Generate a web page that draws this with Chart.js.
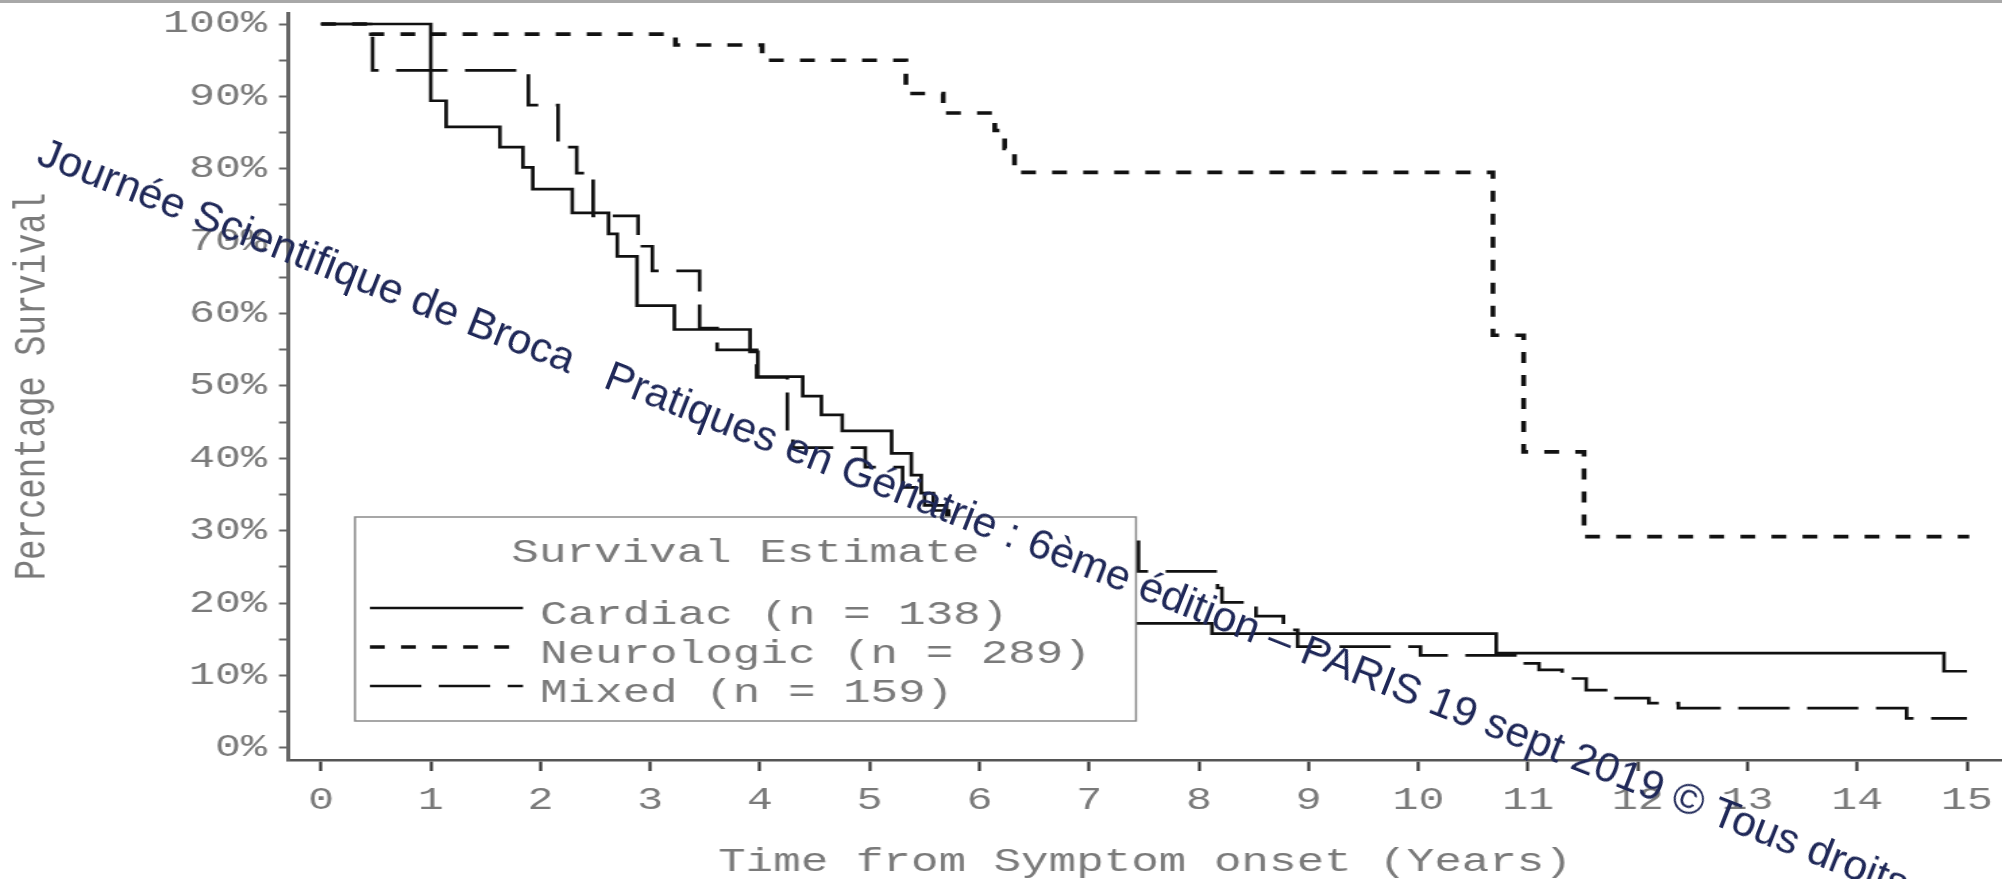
<!DOCTYPE html>
<html>
<head>
<meta charset="utf-8">
<script src="https://cdn.jsdelivr.net/npm/chart.js@4.4.1/dist/chart.umd.min.js"></script>
<style>
  html, body { margin: 0; padding: 0; background: #fff; overflow: hidden; }
  #wrap { position: relative; width: 2002px; height: 879px; overflow: hidden; background: #fff; }
  #graf { position: absolute; left: 0; top: 0; }
  #borde { position: absolute; left: 0; top: 0; width: 2002px; height: 3px; background: #a8a8a8; }
  #marca { position: absolute; left: 48px; top: 130px; font-family: "Liberation Sans", Arial, sans-serif; font-size: 43px; line-height: 1; color: #1f2858; white-space: pre; transform: rotate(21.5deg); transform-origin: 0 0; }
</style>
</head>
<body>
<div id="wrap">
  <canvas id="graf" width="1483" height="879" style="width:2002px;height:879px"></canvas>
  <div id="borde"></div>
  <div id="marca">Journée Scientifique de Broca   Pratiques en Gériatrie : 6ème édition – PARIS 19 sept 2019 © Tous droits</div>
</div>
<script>
// el gráfico original viene estirado a lo ancho, el canvas se estira igual
const ESTIRA = 1.35;
const colorTexto = '#7a7a7a';

// --- Datos (años, % de supervivencia tras cada escalón) ---
const tiempoCardiac = [0, 1.00, 1.14, 1.63, 1.84, 1.93, 2.29, 2.62, 2.70, 2.88, 3.22, 3.91, 3.98, 4.39, 4.56, 4.75, 5.20, 5.38, 5.47, 5.58, 5.72, 6.05, 6.45, 6.90, 7.25, 8.12, 10.71, 14.79, 15.00];
const survCardiac   = [100, 89.4, 85.8, 83.0, 80.2, 77.2, 73.9, 71.0, 67.9, 61.1, 57.8, 54.7, 51.3, 48.6, 46.0, 43.8, 40.7, 37.7, 35.2, 32.8, 29.5, 26.0, 22.5, 19.5, 17.2, 15.8, 13.1, 10.6, 10.6];

const tiempoNeuro = [0, 0.46, 3.23, 4.02, 5.33, 5.67, 6.14, 6.23, 6.32, 10.68, 10.96, 11.51, 15.02];
const survNeuro   = [100, 98.6, 97.1, 95.0, 90.4, 87.7, 85.3, 82.8, 79.5, 57.0, 40.9, 29.2, 29.2];

const tiempoMixed = [0, 0.47, 1.89, 2.16, 2.33, 2.48, 2.89, 3.02, 3.45, 3.61, 3.97, 4.25, 4.30, 4.96, 5.30, 5.50, 5.70, 6.20, 6.80, 7.45, 8.17, 8.21, 8.52, 8.77, 8.90, 10.02, 10.95, 11.10, 11.31, 11.53, 11.73, 12.10, 12.37, 14.45, 15.00];
const survMixed   = [100, 93.6, 88.8, 83.0, 79.4, 73.5, 69.3, 65.9, 58.0, 55.0, 51.2, 43.6, 41.5, 38.8, 36.0, 33.5, 31.0, 30.0, 28.8, 24.4, 22.1, 20.1, 18.2, 16.3, 14.0, 12.8, 11.7, 10.8, 9.6, 8.0, 6.9, 6.2, 5.5, 4.1, 4.1];

const etiquetas = ['Cardiac (n = 138)', 'Neurologic (n = 289)', 'Mixed (n = 159)'];

const ticksX = [0, 1, 2, 3, 4, 5, 6, 7, 8, 9, 10, 11, 12, 13, 14, 15];
const ticksY = [0, 5, 10, 15, 20, 25, 30, 35, 40, 45, 50, 55, 60, 65, 70, 75, 80, 85, 90, 95, 100];

function puntos(t, s) {
    return t.map((x, i) => ({ x: x, y: s[i] }));
}

// Cuadro de leyenda dentro del área (tapa las curvas como en el original)
const leyendaCaja = {
    id: 'leyendaCaja',
    afterDatasetsDraw(chart) {
        const ctx = chart.ctx;
        const x0 = 355 / ESTIRA, x1 = 1136 / ESTIRA, y0 = 517, y1 = 721;
        ctx.save();
        ctx.fillStyle = '#fff';
        ctx.fillRect(x0, y0, x1 - x0, y1 - y0);
        ctx.strokeStyle = '#8a8a8a';
        ctx.lineWidth = 1.5;
        ctx.strokeRect(x0, y0, x1 - x0, y1 - y0);

        ctx.font = '34px "Liberation Mono", monospace';
        ctx.fillStyle = colorTexto;
        ctx.textAlign = 'center';
        ctx.textBaseline = 'alphabetic';
        ctx.fillText('Survival Estimate', (x0 + x1) / 2, 562);

        ctx.textAlign = 'left';
        chart.data.datasets.forEach((ds, i) => {
            const yl = 608 + i * 39;
            ctx.beginPath();
            ctx.setLineDash(ds.borderDash || []);
            ctx.lineWidth = ds.borderWidth;
            ctx.strokeStyle = ds.borderColor;
            ctx.moveTo(370 / ESTIRA, yl);
            ctx.lineTo(523 / ESTIRA, yl);
            ctx.stroke();
            ctx.setLineDash([]);
            ctx.fillText(ds.label, 540 / ESTIRA, yl + 15.5);
        });
        ctx.restore();
    }
};

Chart.defaults.font.family = '"Liberation Mono", monospace';

const comunes = { stepped: 'before', pointRadius: 0, fill: false, tension: 0, borderColor: '#111' };

new Chart(document.getElementById('graf'), {
    type: 'line',
    data: {
        datasets: [
            { ...comunes, label: etiquetas[0], data: puntos(tiempoCardiac, survCardiac), borderWidth: 2.7, borderDash: [] },
            { ...comunes, label: etiquetas[1], data: puntos(tiempoNeuro, survNeuro), borderWidth: 3.6, borderDash: [11, 12] },
            { ...comunes, label: etiquetas[2], data: puntos(tiempoMixed, survMixed), borderWidth: 2.7, borderDash: [38, 13] }
        ]
    },
    options: {
        responsive: false,
        animation: false,
        devicePixelRatio: 1,
        layout: { padding: { top: 13, left: 0, right: 0, bottom: 0 } },
        plugins: { legend: { display: false }, tooltip: { enabled: false } },
        scales: {
            x: {
                type: 'linear', min: -0.3007, max: 15.319,
                afterBuildTicks: s => { s.ticks = ticksX.map(v => ({ value: v })); },
                afterFit: s => { s.height = 119; s.paddingLeft = 0; s.paddingRight = 0; },
                ticks: { color: colorTexto, font: { size: 32, lineHeight: 1 }, padding: 14, maxRotation: 0, autoSkip: false, callback: v => String(v) },
                grid: { drawOnChartArea: false, drawTicks: true, tickLength: 11, tickWidth: 2.2, tickColor: '#333' },
                border: { display: true, color: '#555', width: 2.6 },
                title: { display: true, text: 'Time from Symptom onset (Years)', color: colorTexto, font: { size: 34, lineHeight: 1 }, padding: { top: 0, bottom: 0 } }
            },
            y: {
                type: 'linear', min: -1.66, max: 101.52,
                afterBuildTicks: s => { s.ticks = ticksY.map(v => ({ value: v })); },
                afterFit: s => { s.width = 288 / ESTIRA; s.paddingTop = 0; s.paddingBottom = 0; },
                ticks: { color: colorTexto, font: { size: 32 }, padding: 9, autoSkip: false, callback: v => (v % 10 === 0 ? v + '%' : '') },
                grid: { drawOnChartArea: false, drawTicks: true, tickLength: 6.7, tickWidth: 2, tickColor: '#666' },
                border: { display: true, color: '#666', width: 3 },
                title: { display: true, text: 'Percentage Survival', color: colorTexto, font: { size: 34, lineHeight: 1 }, padding: { top: 7, bottom: 0 } }
            }
        }
    },
    plugins: [leyendaCaja]
});
</script>
</body>
</html>
